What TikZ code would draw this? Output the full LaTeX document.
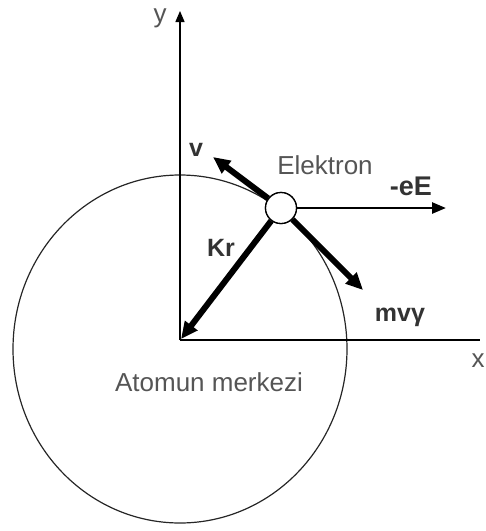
\documentclass[tikz,border=0pt]{standalone}
\usepackage{fontspec}
\setmainfont{Liberation Sans}
\usetikzlibrary{arrows.meta}
\definecolor{txtgray}{HTML}{555555}
\definecolor{boldgray}{HTML}{333333}
\tikzset{
  axisline/.style={line width=1.3pt, black},
  forcearrow/.style={line width=6pt, black, -{Triangle[length=17pt,width=15pt]}},
  fieldarrow/.style={line width=2.6pt, black, -{Triangle[length=14pt,width=11pt]}},
  plainlbl/.style={text=txtgray, font=\fontsize{26}{30}\selectfont, inner sep=0pt},
  boldlbl/.style={text=boldgray, font=\fontsize{25}{28}\selectfont\bfseries, inner sep=0pt},
  electron/.style={circle, draw, fill=white, line width=1.3pt, minimum size=31pt, inner sep=0pt}
}
\begin{document}
\begin{tikzpicture}[x=1pt,y=-1pt]
\useasboundingbox (0,0) rectangle (486,531);
% atom orbit
\draw[line width=1.2pt, black!85] (180,349) ellipse [x radius=167, y radius=174];
% axes
\coordinate (O) at (180,340);
\coordinate (ytop) at (180,11);
\coordinate (xend) at (480,340);
\draw[axisline, -{Triangle[length=11pt,width=9pt]}] (O) -- (ytop);
\draw[axisline] (O) -- (xend);
\node[plainlbl] (ylbl) at (160,18) {y};
\node[plainlbl] (xlbl) at (478,361) {x};
% electron
\node[electron] (e) at (281,208) {};
\coordinate (vtip) at (213,157);
\coordinate (mtip) at (363,290);
\coordinate (ktip) at (181,339);
\coordinate (etip) at (446,208);
\draw[forcearrow] (e) -- (vtip);
\draw[forcearrow] (e) -- (mtip);
\draw[forcearrow] (e) -- (ktip);
\draw[fieldarrow] (e) -- (etip);
\node[electron] (e2) at (e) {};
% labels
\node[boldlbl] (vlbl) at (196,150) {v};
\node[plainlbl] (elbl) at (325,165) {Elektron};
\node[boldlbl, font=\fontsize{27}{30}\selectfont\bfseries] (eElbl) at (411,186) {-eE};
\node[boldlbl] (krlbl) at (221,248) {Kr};
\node[boldlbl] (mlbl) at (400,317) {mvγ};
\node[plainlbl] (alb) at (209,382) {Atomun merkezi};
\end{tikzpicture}
\end{document}
